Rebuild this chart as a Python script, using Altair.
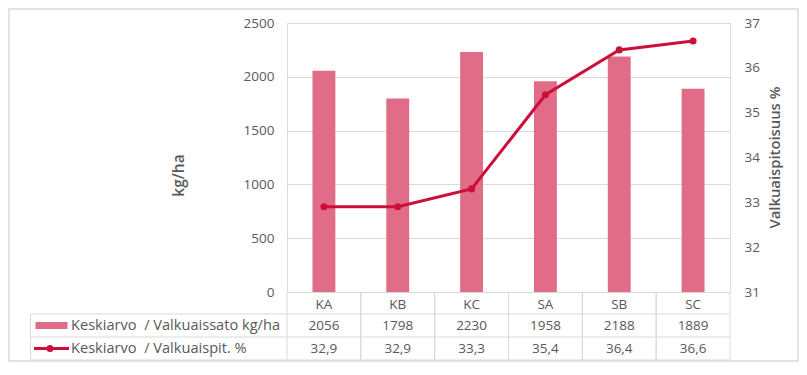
import altair as alt
import pandas as pd

# ---- data ----
categories = ["KA", "KB", "KC", "SA", "SB", "SC"]
valkuaissato = [2056, 1798, 2230, 1958, 2188, 1889]      # kg/ha (bars, left axis)
valkuaispit = [32.9, 32.9, 33.3, 35.4, 36.4, 36.6]        # % (line, right axis)
left_ticks = [0, 500, 1000, 1500, 2000, 2500]
right_ticks = [31, 32, 33, 34, 35, 36, 37]
series_bar = "Keskiarvo \u00a0/ Valkuaissato kg/ha"
series_line = "Keskiarvo \u00a0/ Valkuaispit. %"

df = pd.DataFrame({
    "cat": categories,
    "sato": valkuaissato,
    "pit": valkuaispit,
    "sato_lbl": [str(v) for v in valkuaissato],
    "pit_lbl": [f"{v:.1f}".replace(".", ",") for v in valkuaispit],
})

FONT = "Open Sans"
TXT = "#595959"
GRID = "#D9D9D9"
BAR = "#E06C88"
LINE = "#CC0F3A"
W, H = 443, 269
FS = 13.5
PAD = {"left": 279, "top": 15, "right": 69, "bottom": 70}
RIGHT_EDGE = W + PAD["right"] - 1
BOTTOM_EDGE = H + PAD["bottom"] - 1

xscale = alt.Scale(domain=categories, paddingInner=0, paddingOuter=0)
xaxis = alt.Axis(title=None, ticks=False, domain=True, domainColor=GRID,
                 labelColor=TXT, labelFont=FONT, labelFontSize=FS,
                 labelPadding=5, labelAngle=0, grid=False)


def X(**kw):
    return alt.X("cat:N", scale=xscale, axis=xaxis, sort=categories, **kw)


base = alt.Chart(df)
one = alt.Chart(pd.DataFrame({"a": [0]}))

border = one.mark_rect(
    fill="white", fillOpacity=0, stroke=GRID, strokeWidth=1.5
).encode(x=alt.value(-278), x2=alt.value(RIGHT_EDGE),
         y=alt.value(-14), y2=alt.value(BOTTOM_EDGE))

bars = base.mark_bar(color=BAR, width=alt.RelativeBandSize(0.31)).encode(
    x=X(),
    y=alt.Y("sato:Q", scale=alt.Scale(domain=[0, 2500], nice=False),
            axis=alt.Axis(orient="left", values=left_ticks, title="kg/ha",
                          format="d",
                          grid=True, gridColor=GRID, ticks=False, domain=False,
                          labelColor=TXT, labelFont=FONT, labelFontSize=FS,
                          labelPadding=13,
                          titleColor=TXT, titleFont=FONT, titleFontSize=15.5,
                          titleFontWeight=600, titleAngle=-90,
                          titleX=-109, titleY=152, titleAlign="center",
                          titleBaseline="middle")),
)

yright = alt.Y("pit:Q", scale=alt.Scale(domain=[31, 37], nice=False),
               axis=alt.Axis(orient="right", values=right_ticks,
                             title="Valkuaispitoisuus %", grid=False,
                             ticks=False, domain=False,
                             labelColor=TXT, labelFont=FONT, labelFontSize=FS,
                             labelPadding=14,
                             titleColor=TXT, titleFont=FONT, titleFontSize=14.8,
                             titleFontWeight=600, titleAngle=-90,
                             titleX=45, titleY=134, titleAlign="center",
                             titleBaseline="middle"))

line = base.mark_line(color=LINE, strokeWidth=3).encode(x=X(), y=yright)
pts = base.mark_point(color=LINE, filled=True, size=50, opacity=1).encode(x=X(), y=yright)
line_layer = alt.layer(line, pts)

# ---- data table below the plot ----
hrules = [
    one.mark_rule(color=GRID, strokeWidth=1).encode(
        x=alt.value(-256.5), x2=alt.value(W), y=alt.value(yv))
    for yv in (291, 314, 337)
]
vleft = one.mark_rule(color=GRID, strokeWidth=1).encode(
    x=alt.value(-256.5), y=alt.value(291), y2=alt.value(337))
vcols0 = base.mark_rule(color=GRID, strokeWidth=1).encode(
    x=X(bandPosition=0), y=alt.value(H), y2=alt.value(337))
vcols1 = base.mark_rule(color=GRID, strokeWidth=1).encode(
    x=X(bandPosition=1), y=alt.value(H), y2=alt.value(337))

txt_sato = base.mark_text(font=FONT, fontSize=FS, color=TXT,
                          align="center", baseline="middle").encode(
    x=X(), y=alt.value(302.5), text="sato_lbl:N")
txt_pit = base.mark_text(font=FONT, fontSize=FS, color=TXT,
                         align="center", baseline="middle").encode(
    x=X(), y=alt.value(326), text="pit_lbl:N")

leg_bar_sym = one.mark_rect(color=BAR).encode(
    x=alt.value(-251.5), x2=alt.value(-219.5),
    y=alt.value(299), y2=alt.value(306))
leg_line_sym = one.mark_rule(color=LINE, strokeWidth=3).encode(
    x=alt.value(-253), x2=alt.value(-218), y=alt.value(325.5))
leg_line_pt = one.mark_point(color=LINE, filled=True, size=50, opacity=1).encode(
    x=alt.value(-237), y=alt.value(325.5))
leg_bar_txt = alt.Chart(pd.DataFrame({"t": [series_bar]})).mark_text(
    font=FONT, fontSize=14.6, color=TXT, align="left", baseline="middle"
).encode(x=alt.value(-216), y=alt.value(302.5), text="t:N")
leg_line_txt = alt.Chart(pd.DataFrame({"t": [series_line]})).mark_text(
    font=FONT, fontSize=14.6, color=TXT, align="left", baseline="middle"
).encode(x=alt.value(-216), y=alt.value(326), text="t:N")

chart = alt.layer(
    border, bars, line_layer,
    *hrules, vleft, vcols0, vcols1,
    txt_sato, txt_pit,
    leg_bar_sym, leg_line_sym, leg_line_pt, leg_bar_txt, leg_line_txt,
).resolve_scale(y="independent").properties(
    width=W, height=H,
    autosize=alt.AutoSizeParams(type="none"),
    padding=PAD,
).configure_view(stroke=None).configure(font=FONT)

chart.save("out.html", embed_options={"renderer": "svg", "actions": False})
